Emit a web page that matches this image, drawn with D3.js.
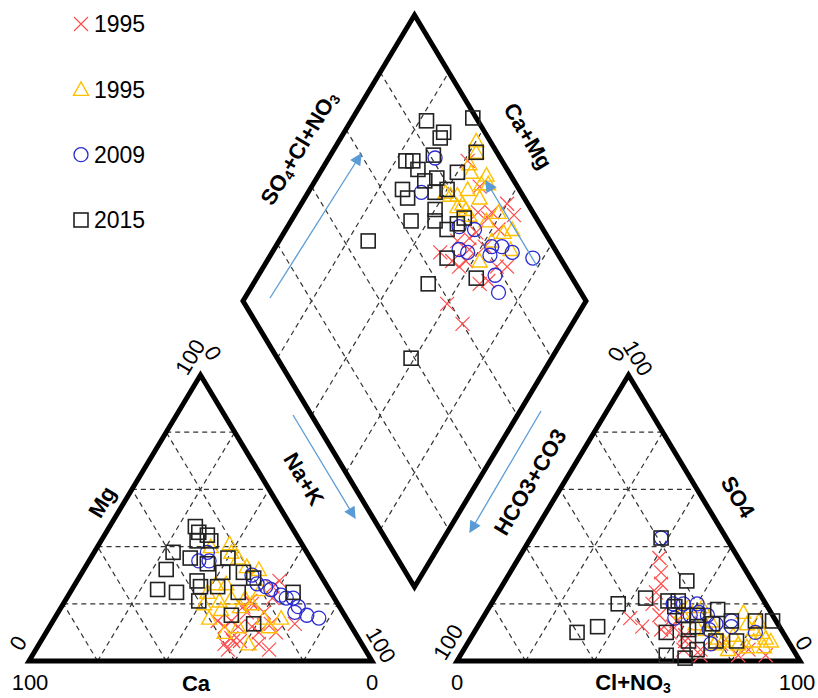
<!DOCTYPE html>
<html>
<head>
<meta charset="utf-8">
<script src="https://cdn.jsdelivr.net/npm/d3@7"></script>
<style>
  body { margin: 0; background: #fff; }
  svg { display: block; font-family: "Liberation Sans", Arial, sans-serif; }
</style>
</head>
<body>
<div id="chart"></div>
<script>
const width = 818;
const height = 698;

// legend text, as printed in the figure
const seriesNames = ["1995", "1995", "2009", "2015"];
const gridSteps = [20, 40, 60, 80];

// cation triangle, [Ca %, Mg %]  (Na+K = rest)
const cat1995x = [[13,28],[16,26],[18,22],[25,21],[28,19],[28,17],[23,17],[25,20],[33,12],[34,14],[29,12],[28,10],
  [23,13],[23,10],[16,13],[37,12],[37,7],[40,6],[37,8],[40,4],[28,4],[35,7],[38,14],[30,6]];
const cat1995t = [[21,41],[27,40],[22,38],[21,36],[20,33],[17,32],[32,27],[29,27],[36,24],[34,21],[30,22],[26,22],
  [40,15],[35,18],[29,19],[38,10],[33,6],[24,15],[19,15],[24,12],[33,12],[25,20],[39,20],[20,25]];
const cat2009 = [[29,38],[33,35],[30,35],[20,30],[20,27],[18,26],[17,25],[15,23],[14,22],[12,22],[12,19],[14,17],[11,16],[8,15]];
const cat2015 = [[28,47],[28,45],[26,44],[30,42],[26,42],[39,38],[35,36],[31,34],[24,36],[44,32],[28,31],[22,31],
  [20,29],[37,28],[32,26],[50,25],[45,24],[37,26],[27,24],[40,21],[11,24],[33,16],[28,13]];

// anion triangle, [Cl+NO3 %, SO4 %]  (HCO3+CO3 = rest)
const an1995x = [[41,36],[44,31],[46,27],[46,24],[47,20],[43,15],[48,12],[54,11],[57,10],[63,7],[64,4],[70,2],
  [89,2],[57,12],[62,9],[69,4],[83,4],[74,6],[81,2],[51,16],[57,14]];
const an1995t = [[57,17],[58,19],[62,19],[67,14],[72,8],[77,4],[74,7],[79,6],[78,13],[81,11],[83,7],[84,10],
  [86,8],[88,7],[87,5],[82,5],[76,9],[67,11],[72,6],[81,14],[75,17],[63,13]];
const an2009 = [[38,43],[53,20],[56,20],[60,20],[56,15],[62,17],[65,16],[69,13],[68,11],[71,6],[73,14],[74,12],[82,10],[60,16]];
const an2015 = [[38,43],[53,28],[37,20],[44,22],[30,10],[35,12],[51,21],[54,19],[54,21],[62,16],[67,18],[73,14],
  [80,14],[85,14],[56,10],[62,11],[64,12],[68,13],[72,7],[78,7],[60,2],[66,1],[68,4],[64,7],[58,16]];

// diamond, [Na+K %, SO4+Cl+NO3 %]
const dia1995x = [[41,90],[49,89],[60,94],[57,88],[57,86],[56,80],[55,77],[52,73],[49,66],[54,68],[58,72],[57,69],
  [68,80],[71,83],[68,75],[66,72],[60,59],[68,60],[57,75],[61,80],[53,84],[62,87],[64,94]];
const dia1995t = [[40,96],[42,94],[42,90],[44,89],[49,93],[51,92],[49,90],[44,81],[42,79],[47,81],[49,81],[46,79],
  [59,90],[66,91],[64,88],[62,83],[62,76],[69,87],[40,78],[46,85],[51,87],[51,81],[57,85]];
const dia2009 = [[31,81],[33,71],[50,76],[55,80],[54,72],[57,74],[64,80],[63,82],[66,85],[70,87],[77,92],[69,78],[73,76]];
const dia2015 = [[22,85],[29,88],[29,86],[35,99],[42,94],[23,72],[25,74],[28,74],[30,81],[40,85],[32,74],[35,78],
  [40,79],[27,66],[30,66],[37,75],[35,63],[40,72],[42,70],[47,72],[49,76],[50,79],[26,47],[52,67],[64,72],[51,57],[59,39]];

const svg = d3.select("#chart")
    .append("svg")
    .attr("width", width)
    .attr("height", height);

/* ------------------------
   SCALES / PROJECTIONS
-------------------------*/
const xCat = d3.scaleLinear().domain([0, 100]).range([29, 372]);
const xAn = d3.scaleLinear().domain([0, 100]).range([457, 800]);
const yTri = d3.scaleLinear().domain([0, 100]).range([661, 375]);
const xDia = d3.scaleLinear().domain([-100, 100]).range([243, 586]);
const yDia = d3.scaleLinear().domain([0, 200]).range([587, 15]);

function catPt(ca, mg) { return [xCat(100 - ca - mg / 2), yTri(mg)]; }
function anPt(cl, so4) { return [xAn(cl + so4 / 2), yTri(so4)]; }
function diaPt(nak, sc) {
    const s = 100 - nak;
    return [xDia(sc - s), yDia(sc + s)];
}

/* ------------------------
   GRID
-------------------------*/
const gridLines = [];
gridSteps.forEach(k => {
    gridLines.push([catPt(100 - k, k), catPt(0, k)]);
    gridLines.push([catPt(k, 0), catPt(k, 100 - k)]);
    gridLines.push([catPt(100 - k, 0), catPt(0, 100 - k)]);
    gridLines.push([anPt(0, k), anPt(100 - k, k)]);
    gridLines.push([anPt(k, 0), anPt(k, 100 - k)]);
    gridLines.push([anPt(100 - k, 0), anPt(0, 100 - k)]);
    gridLines.push([diaPt(k, 0), diaPt(k, 100)]);
    gridLines.push([diaPt(0, k), diaPt(100, k)]);
});

svg.append("g").selectAll("line")
    .data(gridLines)
    .enter()
    .append("line")
    .attr("x1", d => d[0][0]).attr("y1", d => d[0][1])
    .attr("x2", d => d[1][0]).attr("y2", d => d[1][1])
    .attr("stroke", "#333")
    .attr("stroke-width", 1.2)
    .attr("stroke-dasharray", "5,4");

/* ------------------------
   OUTLINES
-------------------------*/
const outlines = [
    [catPt(100, 0), catPt(0, 0), catPt(0, 100)],
    [anPt(0, 0), anPt(100, 0), anPt(0, 100)],
    [diaPt(100, 0), diaPt(0, 0), diaPt(0, 100), diaPt(100, 100)]
];
svg.append("g").selectAll("path")
    .data(outlines)
    .enter()
    .append("path")
    .attr("d", d => "M" + d.map(p => p.join(",")).join("L") + "Z")
    .attr("fill", "none")
    .attr("stroke", "#000")
    .attr("stroke-width", 5)
    .attr("stroke-linejoin", "miter")
    .attr("stroke-miterlimit", 10);

/* ------------------------
   MARKERS
-------------------------*/
const styles = [
    { type: "x", color: "#ff4d4d" },
    { type: "tri", color: "#ffc000" },
    { type: "circle", color: "#2b2bd0" },
    { type: "square", color: "#222" }
];

function drawMarkers(g, pts, st) {
    const sel = g.selectAll(null).data(pts).enter();
    if (st.type === "x") {
        sel.append("path")
            .attr("d", d => `M${d[0]-7},${d[1]-7}L${d[0]+7},${d[1]+7}M${d[0]-7},${d[1]+7}L${d[0]+7},${d[1]-7}`)
            .attr("stroke", st.color).attr("stroke-width", 1.2).attr("fill", "none");
    } else if (st.type === "tri") {
        sel.append("path")
            .attr("d", d => `M${d[0]},${d[1]-7.5}L${d[0]+7.5},${d[1]+6}L${d[0]-7.5},${d[1]+6}Z`)
            .attr("stroke", st.color).attr("stroke-width", 1.4).attr("fill", "none");
    } else if (st.type === "circle") {
        sel.append("circle")
            .attr("cx", d => d[0]).attr("cy", d => d[1]).attr("r", 7)
            .attr("stroke", st.color).attr("stroke-width", 1.3).attr("fill", "none");
    } else {
        sel.append("rect")
            .attr("x", d => d[0] - 7).attr("y", d => d[1] - 7)
            .attr("width", 14).attr("height", 14)
            .attr("stroke", st.color).attr("stroke-width", 1.6).attr("fill", "none");
    }
}

const catData = [cat1995x, cat1995t, cat2009, cat2015];
const anData = [an1995x, an1995t, an2009, an2015];
const diaData = [dia1995x, dia1995t, dia2009, dia2015];

const markG = svg.append("g");
styles.forEach((st, i) => {
    drawMarkers(markG, catData[i].map(d => catPt(d[0], d[1])), st);
    drawMarkers(markG, anData[i].map(d => anPt(d[0], d[1])), st);
    drawMarkers(markG, diaData[i].map(d => diaPt(d[0], d[1])), st);
});

/* ------------------------
   LEGEND
-------------------------*/
const legY = d3.scalePoint().domain(d3.range(seriesNames.length)).range([24, 220]);
styles.forEach((st, i) => {
    drawMarkers(svg.append("g"), [[81, legY(i)]], st);
});
svg.append("g").selectAll("text")
    .data(seriesNames)
    .enter()
    .append("text")
    .attr("x", 94)
    .attr("y", (d, i) => legY(i))
    .attr("dy", "0.36em")
    .attr("font-size", 23)
    .text(d => d);

/* ------------------------
   AXIS TEXT
-------------------------*/
const ang = 59;
const tickText = [
    { t: "100", x: 30, y: 682, r: 0 },
    { t: "0", x: 372, y: 682, r: 0 },
    { t: "0", x: 18, y: 643, r: -ang },
    { t: "100", x: 190, y: 357, r: -ang },
    { t: "0", x: 213, y: 353, r: ang },
    { t: "100", x: 381, y: 645, r: ang },
    { t: "0", x: 457, y: 682, r: 0 },
    { t: "100", x: 797, y: 682, r: 0 },
    { t: "100", x: 448, y: 642, r: -ang },
    { t: "0", x: 616, y: 354, r: -ang },
    { t: "100", x: 638, y: 358, r: ang },
    { t: "0", x: 804, y: 643, r: ang }
];
svg.append("g").selectAll("text")
    .data(tickText)
    .enter()
    .append("text")
    .attr("transform", d => `translate(${d.x},${d.y}) rotate(${d.r})`)
    .attr("text-anchor", "middle")
    .attr("dy", "0.35em")
    .attr("font-size", 22)
    .text(d => d.t);

// axis names; parts = [text, isSub]
const axisNames = [
    { parts: [["Ca", 0]], x: 196, y: 683, r: 0 },
    { parts: [["Mg", 0]], x: 102, y: 502, r: -ang },
    { parts: [["Na+K", 0]], x: 304, y: 479, r: ang },
    { parts: [["Cl+NO", 0], ["3", 1]], x: 633, y: 682, r: 0 },
    { parts: [["SO4", 0]], x: 738, y: 497, r: ang },
    { parts: [["HCO3+CO3", 0]], x: 530, y: 482, r: -ang },
    { parts: [["SO", 0], ["4", 1], ["+Cl+NO", 0], ["3", 1]], x: 299, y: 148, r: -ang },
    { parts: [["Ca+Mg", 0]], x: 528, y: 136, r: ang }
];
axisNames.forEach(a => {
    const t = svg.append("text")
        .attr("transform", `translate(${a.x},${a.y}) rotate(${a.r})`)
        .attr("text-anchor", "middle")
        .attr("dy", "0.35em")
        .attr("font-size", 22)
        .attr("font-weight", "bold");
    let sub = false;
    a.parts.forEach(p => {
        const ts = t.append("tspan").text(p[0]);
        if (p[1]) { ts.attr("font-size", 14).attr("dy", "0.2em"); sub = true; }
        else if (sub) { ts.attr("dy", "-0.13em"); sub = false; }
    });
});

/* ------------------------
   ARROWS
-------------------------*/
svg.append("defs").append("marker")
    .attr("id", "head")
    .attr("viewBox", "0 0 10 10")
    .attr("refX", 9).attr("refY", 5)
    .attr("markerWidth", 14).attr("markerHeight", 12)
    .attr("markerUnits", "userSpaceOnUse")
    .attr("orient", "auto")
    .append("path")
    .attr("d", "M0,0L10,5L0,10Z")
    .attr("fill", "#5b9bd5");

const arrows = [
    [[270, 298], [361, 154]],
    [[537, 266], [486, 181]],
    [[293, 415], [355, 518]],
    [[541, 411], [470, 532]]
];
svg.append("g").selectAll("line")
    .data(arrows)
    .enter()
    .append("line")
    .attr("x1", d => d[0][0]).attr("y1", d => d[0][1])
    .attr("x2", d => d[1][0]).attr("y2", d => d[1][1])
    .attr("stroke", "#5b9bd5")
    .attr("stroke-width", 1.3)
    .attr("marker-end", "url(#head)");
</script>
</body>
</html>
